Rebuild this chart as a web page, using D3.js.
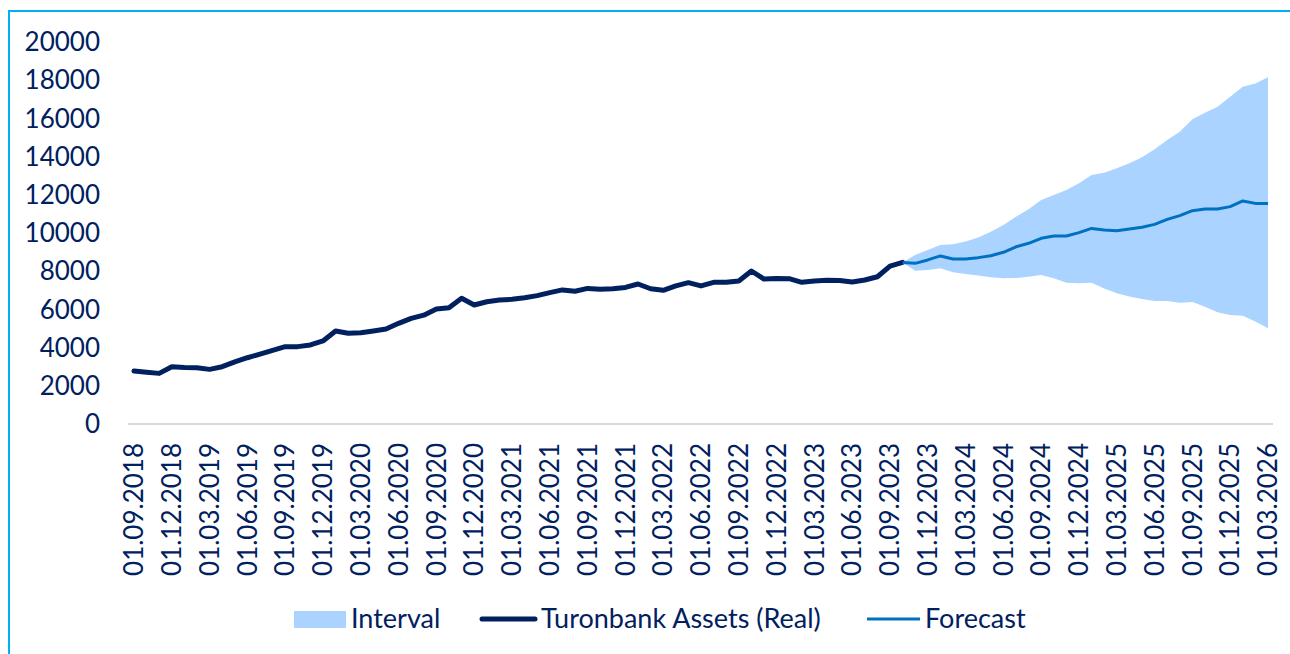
<!DOCTYPE html>
<html>
<head>
<meta charset="utf-8">
<script src="https://cdn.jsdelivr.net/npm/d3@7"></script>
<style>
  body { margin: 0; background: #fff; }
  svg text { font-family: Lato, "Open Sans", sans-serif; fill: #002060; }
</style>
</head>
<body>
<div id="chart"></div>
<script>
// monthly categories 01.09.2018 .. 01.03.2026
const months = d3.timeMonth.range(new Date(2018, 8, 1), new Date(2026, 3, 1));
const fmtDate = d3.timeFormat('%d.%m.%Y');
const categories = months.map(fmtDate);

const yTicks = [0, 2000, 4000, 6000, 8000, 10000, 12000, 14000, 16000, 18000, 20000];

// Turonbank assets (real), 01.09.2018 .. 01.10.2023
const realValues = [
  2770, 2710, 2650, 3000, 2960, 2950, 2860, 3000, 3250, 3470,
  3660, 3860, 4050, 4050, 4140, 4350, 4870, 4750, 4780, 4870,
  4970, 5270, 5530, 5700, 6020, 6090, 6580, 6230, 6400, 6490,
  6530, 6610, 6720, 6880, 7020, 6950, 7100, 7050, 7080, 7150,
  7330, 7080, 7000, 7230, 7400, 7230, 7420, 7420, 7490, 8010,
  7590, 7620, 7610, 7420, 7490, 7520, 7510, 7430, 7540, 7710,
  8270, 8460
];

// forecast, 01.10.2023 .. 01.03.2026
const forecastStart = 61;
const forecastValues = [
  8460, 8410, 8590, 8800, 8640, 8640, 8710, 8810, 8990, 9280,
  9460, 9720, 9840, 9840, 10020, 10240, 10160, 10120, 10210, 10300,
  10450, 10710, 10910, 11170, 11260, 11260, 11380, 11680, 11550, 11550
];
const upperValues = [
  8460, 8850, 9110, 9370, 9410, 9550, 9770, 10070, 10420, 10850,
  11240, 11730, 11990, 12250, 12600, 13040, 13160, 13390, 13650, 13960,
  14380, 14870, 15300, 15950, 16300, 16610, 17140, 17660, 17830, 18150
];
const lowerValues = [
  8460, 8030, 8060, 8150, 7940, 7850, 7770, 7680, 7630, 7650,
  7710, 7800, 7630, 7400, 7370, 7400, 7100, 6840, 6670, 6540,
  6440, 6440, 6350, 6390, 6140, 5850, 5710, 5670, 5360, 5010
];

const width = 1290, height = 654;
const navy = '#002060', blue = '#0070C0', band = '#AAD3FF';

const svg = d3.select('#chart').append('svg')
  .attr('width', width)
  .attr('height', height);

// frame (top and left edges visible)
svg.append('path')
  .attr('d', `M9,${height} V11 H${width}`)
  .attr('fill', 'none')
  .attr('stroke', '#00B0F0')
  .attr('stroke-width', 2);

const x = d3.scalePoint()
  .domain(categories)
  .range([134, 1268]);

const y = d3.scaleLinear()
  .domain([0, 20000])
  .range([424, 42]);

// y labels
svg.append('g')
  .selectAll('text')
  .data(yTicks)
  .join('text')
  .attr('x', 100)
  .attr('y', d => y(d))
  .attr('dy', '0.35em')
  .attr('text-anchor', 'end')
  .style('font-size', '26px')
  .text(d => d);

// category axis line
svg.append('line')
  .attr('x1', 128).attr('x2', 1273)
  .attr('y1', y(0)).attr('y2', y(0))
  .attr('stroke', '#D9D9D9')
  .attr('stroke-width', 2);

// x labels every 3rd month
svg.append('g')
  .selectAll('text')
  .data(categories.filter((d, i) => i % 3 === 0))
  .join('text')
  .attr('transform', d => `translate(${x(d)},443) rotate(-90)`)
  .attr('dy', '0.35em')
  .attr('text-anchor', 'end')
  .style('font-size', '26px')
  .text(d => d);

const fc = forecastValues.map((v, i) => ({
  c: categories[forecastStart + i], v, lo: lowerValues[i], hi: upperValues[i]
}));

svg.append('path')
  .datum(fc)
  .attr('fill', band)
  .attr('d', d3.area()
    .x(d => x(d.c))
    .y0(d => y(d.lo))
    .y1(d => y(d.hi)));

svg.append('path')
  .datum(realValues.map((v, i) => ({ c: categories[i], v })))
  .attr('fill', 'none')
  .attr('stroke', navy)
  .attr('stroke-width', 5)
  .attr('stroke-linejoin', 'round')
  .attr('stroke-linecap', 'round')
  .attr('d', d3.line().x(d => x(d.c)).y(d => y(d.v)));

svg.append('path')
  .datum(fc)
  .attr('fill', 'none')
  .attr('stroke', blue)
  .attr('stroke-width', 3)
  .attr('stroke-linejoin', 'round')
  .attr('d', d3.line().x(d => x(d.c)).y(d => y(d.v)));

// legend
const leg = svg.append('g').style('font-size', '27px');
leg.append('rect')
  .attr('x', 294).attr('y', 611).attr('width', 52).attr('height', 17)
  .attr('fill', band);
leg.append('text').attr('x', 351).attr('y', 619).attr('dy', '0.35em').text('Interval');

leg.append('line')
  .attr('x1', 482).attr('x2', 535).attr('y1', 619).attr('y2', 619)
  .attr('stroke', navy).attr('stroke-width', 5).attr('stroke-linecap', 'round');
leg.append('text').attr('x', 541).attr('y', 619).attr('dy', '0.35em').text('Turonbank Assets (Real)');

leg.append('line')
  .attr('x1', 867).attr('x2', 920).attr('y1', 619).attr('y2', 619)
  .attr('stroke', blue).attr('stroke-width', 3);
leg.append('text').attr('x', 925).attr('y', 619).attr('dy', '0.35em').text('Forecast');
</script>
</body>
</html>
